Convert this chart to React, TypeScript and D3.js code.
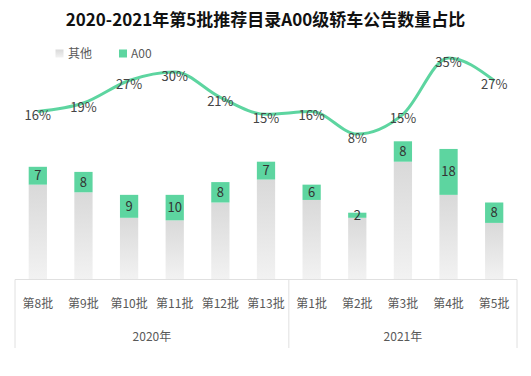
import React from "react";
import * as d3 from "d3";

const categories = ["第8批", "第9批", "第10批", "第11批", "第12批", "第13批", "第1批", "第2批", "第3批", "第4批", "第5批"];
const years = ["2020年", "2021年"];
const yearCounts = [6, 5];
const otherValues = [37, 34, 24, 23, 30, 39, 31, 24, 46, 33, 22];
const a00Values = [7, 8, 9, 10, 8, 7, 6, 2, 8, 18, 8];
const sharePct = [16, 19, 27, 30, 21, 15, 16, 8, 15, 35, 27];

const W = 531;
const H = 376;
const GREEN = "#5dd5a0";
const FONT = "'Noto Sans CJK SC', 'Noto Sans', sans-serif";

export default function App() {
  const x = d3.scaleBand<string>().domain(categories).range([15, 517]).paddingInner(0.6).paddingOuter(0.3);
  const yBar = d3.scaleLinear().domain([0, 60]).range([279, 126]);
  const yLine = d3.scaleLinear().domain([0, 40]).range([156.6, 43.8]);
  const cx = (c: string) => (x(c) ?? 0) + x.bandwidth() / 2;

  const line = d3
    .line<number>()
    .x((_, i) => cx(categories[i]))
    .y((d) => yLine(d))
    .curve(d3.curveMonotoneX);

  const step = x.step();
  const x0 = 15;
  let acc = 0;
  const groups = yearCounts.map((n, gi) => {
    const start = x0 + acc * step;
    acc += n;
    const end = x0 + acc * step;
    return { label: years[gi], start, end };
  });

  return (
    <svg width={W} height={H} style={{ position: "absolute", left: 0, top: 0, background: "#fff" }} fontFamily={FONT}>
      <defs>
        <linearGradient id="greyGrad" x1="0" y1="0" x2="0" y2="1">
          <stop offset="0%" stopColor="#d9d9d9" />
          <stop offset="100%" stopColor="#f2f2f2" />
        </linearGradient>
      </defs>
      <rect x={0} y={0} width={W} height={H} fill="#fff" />

      {/* title */}
      <text x={W / 2} y={26} textAnchor="middle" fontSize={17} fontWeight={700} fill="#111">
        2020-2021年第5批推荐目录A00级轿车公告数量占比
      </text>

      {/* legend */}
      <rect x={55.5} y={49.5} width={8} height={8} fill="url(#greyGrad)" />
      <text x={68} y={57.5} fontSize={12} fill="#595959">其他</text>
      <rect x={119} y={49.5} width={8} height={8} fill={GREEN} />
      <text x={131} y={57.5} fontSize={12} fill="#595959">A00</text>

      {/* bars */}
      {categories.map((c, i) => {
        const bx = x(c) ?? 0;
        const bw = x.bandwidth();
        const yo = yBar(otherValues[i]);
        const yt = yBar(otherValues[i] + a00Values[i]);
        return (
          <g key={c}>
            <rect x={bx} y={yo} width={bw} height={yBar(0) - yo} fill="url(#greyGrad)" />
            <rect x={bx} y={yt} width={bw} height={yo - yt} fill={GREEN} />
            <text x={bx + bw / 2} y={(yt + yo) / 2 + 4.5} textAnchor="middle" fontSize={13} fill="#333">
              {a00Values[i]}
            </text>
          </g>
        );
      })}

      {/* axis */}
      <line x1={15} x2={517} y1={279.5} y2={279.5} stroke="#e0e0e0" strokeWidth={1} />
      {groups.map((g, gi) => (
        <g key={g.label}>
          {gi === 0 && <line x1={g.start} x2={g.start} y1={279.5} y2={348} stroke="#e0e0e0" />}
          <line x1={g.end} x2={g.end} y1={279.5} y2={348} stroke="#e0e0e0" />
          <text x={(g.start + g.end) / 2} y={341} textAnchor="middle" fontSize={12} fill="#595959">
            {g.label}
          </text>
        </g>
      ))}
      {categories.map((c) => (
        <text key={c} x={cx(c)} y={308} textAnchor="middle" fontSize={12} fill="#595959">
          {c}
        </text>
      ))}

      {/* line */}
      <path d={line(sharePct) ?? ""} fill="none" stroke={GREEN} strokeWidth={3} />
      {sharePct.map((v, i) => (
        <text key={i} x={cx(categories[i])} y={yLine(v) + 9} textAnchor="middle" fontSize={13} fill="#444">
          {v}%
        </text>
      ))}
    </svg>
  );
}
